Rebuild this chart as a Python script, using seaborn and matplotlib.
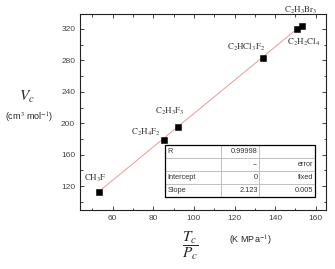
import numpy as np
import pandas as pd
import matplotlib
matplotlib.use("Agg")
import matplotlib.pyplot as plt
from matplotlib.ticker import MultipleLocator
import seaborn as sns

# values
compounds = ["CH3F", "C2H4F2", "C2H3F3", "C2HCl3F2", "C2H2Cl4", "C2H3Br3"]
labels = [r"$\mathrm{CH_3F}$", r"$\mathrm{C_2H_4F_2}$", r"$\mathrm{C_2H_3F_3}$",
          r"$\mathrm{C_2HCl_3F_2}$", r"$\mathrm{C_2H_2Cl_4}$", r"$\mathrm{C_2H_3Br_3}$"]
tc_pc = [53.4, 85.4, 92.3, 133.8, 150.8, 153.3]
vc = [112.4, 179.0, 195.0, 282.5, 320.0, 324.0]
fit_x = [53.4, 153.3]
fit_y = [113.4, 325.4]
table_rows = [["R", "0.99998", ""],
              ["", "--", "error"],
              ["Intercept", "0", "fixed"],
              ["Slope", "2.123", "0.005"]]

# label offsets (points) relative to each marker
label_offsets = [(-3, 6), (-13, 1), (-6, 7), (-12, 4), (5, -14), (-1, 7)]

df = pd.DataFrame({"compound": compounds, "x": tc_pc, "y": vc})

sns.set_theme(style="ticks")
plt.rcParams["font.family"] = ["Liberation Sans", "DejaVu Sans"]
plt.rcParams["mathtext.fontset"] = "stix"

fig = plt.figure(figsize=(3.35, 2.69), dpi=100)
ax = fig.add_axes([0.239, 0.219, 0.734, 0.729])

sns.lineplot(x=fit_x, y=fit_y, color="#e89a9a", lw=0.7, ax=ax)
sns.scatterplot(data=df, x="x", y="y", marker="s", s=22, color="black",
                edgecolor="black", linewidth=0.4, ax=ax, zorder=3)

for lab, x, y, off in zip(labels, tc_pc, vc, label_offsets):
    ax.annotate(lab, (x, y), xytext=off, textcoords="offset points",
                ha="center", va="bottom", fontsize=6.4, color="#333333")

ax.set_xlim(44, 165)
ax.set_ylim(89.5, 339)
ax.xaxis.set_major_locator(MultipleLocator(20))
ax.xaxis.set_minor_locator(MultipleLocator(10))
ax.yaxis.set_major_locator(MultipleLocator(40))
ax.yaxis.set_minor_locator(MultipleLocator(20))
ax.tick_params(which="both", direction="in", top=True, right=True,
               labelsize=6, labelcolor="#444444", width=0.6)
ax.tick_params(which="major", length=3)
ax.tick_params(which="minor", length=1.8)
for sp in ax.spines.values():
    sp.set_linewidth(0.8)
    sp.set_color("#222222")
ax.set_xlabel("")
ax.set_ylabel("")

tab = ax.table(cellText=table_rows, bbox=[0.346, 0.066, 0.61, 0.265],
               colWidths=[0.373, 0.253, 0.373], cellLoc="right")
tab.auto_set_font_size(False)
for (r, c), cell in tab.get_celld().items():
    cell.set_edgecolor("#bbbbbb")
    cell.set_linewidth(0.6)
    cell.set_facecolor("white")
    cell.get_text().set_fontsize(5.3)
    cell.get_text().set_color("#333333")
    cell.PAD = 0.04
    if c == 0:
        cell.get_text().set_ha("left")
        cell._loc = "left"
border = plt.Rectangle((0.346, 0.066), 0.61, 0.265, transform=ax.transAxes,
                       fill=False, edgecolor="black", lw=0.9, zorder=5)
ax.add_patch(border)

fig.text(0.081, 0.639, r"$V_c$", fontsize=11, ha="center", va="center")
fig.text(0.087, 0.561, r"(cm$^3$ mol$^{-1}$)", fontsize=6.5, ha="center", va="center")
fig.text(0.567, 0.086, r"$\dfrac{T_c}{P_c}$", fontsize=11, ha="center", va="center")
fig.text(0.746, 0.104, r"(K MPa$^{-1}$)", fontsize=6.5, ha="center", va="center")

fig.savefig("out.png", dpi=100)
